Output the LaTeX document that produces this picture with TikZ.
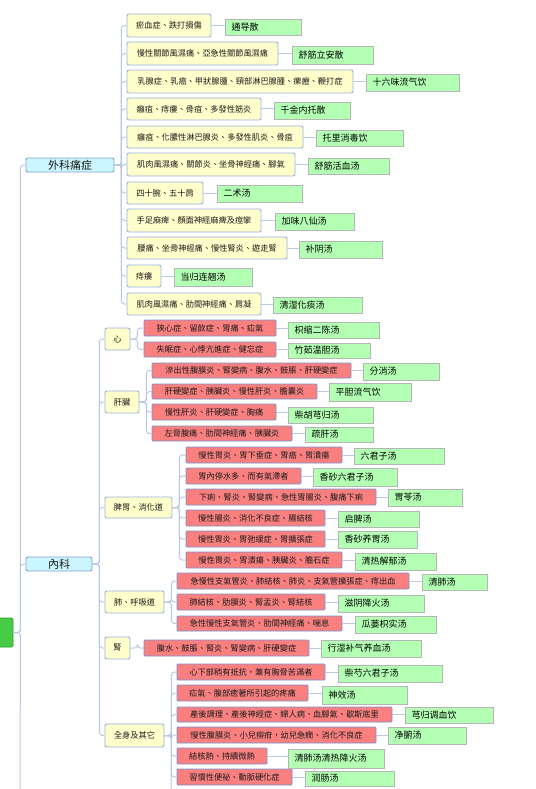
\documentclass[tikz,border=0pt]{standalone}
\usepackage{fontspec}
\setmainfont{Noto Sans CJK TC}
\definecolor{cyanfill}{HTML}{CCF6FF}
\definecolor{cyanline}{HTML}{7FA3D9}
\definecolor{yelfill}{HTML}{FFFFCC}
\definecolor{yelline}{HTML}{9AB0DD}
\definecolor{redfill}{HTML}{FA8080}
\definecolor{redline}{HTML}{7B8FCF}
\definecolor{grnfill}{HTML}{B3FFB3}
\definecolor{grnline}{HTML}{B5B5B5}
\definecolor{rootfill}{HTML}{46CC46}
\definecolor{rootline}{HTML}{2E9E2E}
\definecolor{connc}{HTML}{B8C9E8}
\definecolor{txt}{HTML}{1A1A1A}
\tikzset{
  base/.style={inner sep=0pt, text=txt, line width=0.9pt},
  cbox/.style={base, draw=cyanline, fill=cyanfill, rounded corners=2pt, font=\fontsize{11}{12}\selectfont},
  ybox/.style={base, draw=yelline, fill=yelfill, rounded corners=2pt, font=\fontsize{8.2}{9}\selectfont},
  rbox/.style={base, draw=redline, fill=redfill, rounded corners=1pt, font=\fontsize{8.2}{9}\selectfont},
  gbox/.style={inner ysep=0pt, inner xsep=6.5pt, draw=grnline, fill=grnfill, line width=0.9pt, text=black, align=left, font=\fontsize{9}{10}\selectfont},
  rootbox/.style={base, draw=rootline, fill=rootfill, rounded corners=1.5pt},
  conn/.style={draw=connc, line width=1pt, rounded corners=3pt},
}
\newcommand\bx[7]{%
  \pgfmathsetmacro\bw{#5-#3}\pgfmathsetmacro\bh{#6-#4}%
  \node[#1, minimum width=\bw pt, minimum height=\bh pt] (#2) at ({(#3+#5)/2},{(#4+#6)/2}) {#7};}
\newcommand\gb[6]{%
  \pgfmathsetmacro\bw{#4-#2-13}\pgfmathsetmacro\bh{#5-#3}%
  \node[gbox, text width=\bw pt, minimum height=\bh pt] (#1) at ({(#2+#4)/2},{(#3+#5)/2}) {#6};}
\newcommand\cn[2]{\draw[conn] (#1.east) -- ++(7,0) |- (#2.west);}
\newcommand\cg[2]{\draw[conn] (#1.east) -- (#1.east -| #2.west);}
\begin{document}
\begin{tikzpicture}[x=1pt,y=-1pt]
\useasboundingbox[fill=white] (0,0) rectangle (535,789);
% connectors first (drawn under boxes)
\begin{scope}[on background layer/.style={}]
\end{scope}
% root and main branches
\bx{rootbox}{root}{-6}{618}{13}{647}{}
\bx{cbox}{wk}{26}{158}{114}{172}{外科痛症}
\bx{cbox}{nk}{26}{557}{92}{571}{內科}
% 外科 children
\bx{ybox}{w1}{127}{14}{211}{37}{瘀血症、跌打損傷}
\bx{ybox}{w2}{127}{42}{278}{65}{慢性關節風濕痛、亞急性關節風濕痛}
\bx{ybox}{w3}{127}{70}{353}{93}{乳腺症、乳癌、甲狀腺腫、頸部淋巴腺腫、瘰癧、鞭打症}
\bx{ybox}{w4}{127}{98}{261}{120}{癰疽、痔瘻、骨疽、多發性筋炎}
\bx{ybox}{w5}{127}{126}{303}{148}{癰疽、化膿性淋巴腺炎、多發性肌炎、骨疽}
\bx{ybox}{w6}{127}{153}{295}{176}{肌肉風濕痛、關節炎、坐骨神經痛、腳氣}
\bx{ybox}{w7}{127}{182}{203}{204}{四十腕、五十肩}
\bx{ybox}{w8}{127}{209}{261}{232}{手足麻痺、顏面神經麻痺及痙攣}
\bx{ybox}{w9}{127}{237}{287}{259}{腰痛、坐骨神經痛、慢性腎炎、遊走腎}
\bx{ybox}{w10}{127}{265}{161}{287}{痔瘻}
\bx{ybox}{w11}{127}{293}{261}{315}{肌肉風濕痛、肋間神經痛、肩凝}
\gb{gw1}{225}{19}{301}{35}{通导散}
\gb{gw2}{292}{46}{373}{64}{舒筋立安散}
\gb{gw3}{366}{74}{459}{91}{十六味流气饮}
\gb{gw4}{274}{102}{350}{119}{千金内托散}
\gb{gw5}{316}{130}{403}{146}{托里消毒饮}
\gb{gw6}{308}{158}{389}{174}{舒筋活血汤}
\gb{gw7}{217}{185}{302}{202}{二术汤}
\gb{gw8}{275}{213}{354}{230}{加味八仙汤}
\gb{gw9}{299}{241}{382}{258}{补阴汤}
\gb{gw10}{174}{268}{252}{286}{当归连翘汤}
\gb{gw11}{273}{297}{362}{313}{清湿化痰汤}
% 內科 children
\bx{ybox}{n1}{105}{328}{130}{350}{心}
\bx{ybox}{n2}{105}{391}{139}{413}{肝臟}
\bx{ybox}{n3}{105}{497}{172}{518}{脾胃、消化道}
\bx{ybox}{n4}{105}{591}{164}{613}{肺、呼吸道}
\bx{ybox}{n5}{105}{637}{130}{659}{腎}
\bx{ybox}{n6}{105}{724}{164}{747}{全身及其它}
% 心
\bx{rbox}{x1}{144}{320}{276}{336}{狹心症、留飲症、胃痛、疝氣}
\bx{rbox}{x2}{144}{342}{276}{357}{失眠症、心悸亢進症、健忘症}
\gb{gx1}{288}{322}{379}{338}{枳缩二陈汤}
\gb{gx2}{288}{343}{370}{358}{竹茹温胆汤}
% 肝臟
\bx{rbox}{h1}{152}{363}{351}{378}{滲出性腹膜炎、腎變病、腹水、鼓脹、肝硬變症}
\bx{rbox}{h2}{152}{384}{317}{399}{肝硬變症、胰臟炎、慢性肝炎、膽囊炎}
\bx{rbox}{h3}{152}{404}{276}{420}{慢性肝炎、肝硬變症、胸痛}
\bx{rbox}{h4}{152}{426}{292}{441}{左脅腹痛、肋間神經痛、胰臟炎}
\gb{gh1}{363}{363}{439}{380}{分消汤}
\gb{gh2}{329}{383}{411}{401}{平胆流气饮}
\gb{gh3}{288}{407}{373}{423}{柴胡芎归汤}
\gb{gh4}{305}{427}{373}{442}{疏肝汤}
% 脾胃
\bx{rbox}{p1}{186}{447}{342}{463}{慢性胃炎、胃下垂症、胃癌、胃潰瘍}
\bx{rbox}{p2}{186}{468}{301}{484}{胃內停水多、而有氣滯者}
\bx{rbox}{p3}{186}{489}{376}{505}{下痢、腎炎、腎變病、急性胃腸炎、腹痛下痢}
\bx{rbox}{p4}{186}{510}{325}{526}{慢性腸炎、消化不良症、腸結核}
\bx{rbox}{p5}{186}{531}{325}{547}{慢性胃炎、胃弛緩症、胃擴張症}
\bx{rbox}{p6}{186}{552}{342}{568}{慢性胃炎、胃潰瘍、胰臟炎、膽石症}
\gb{gp1}{354}{448}{444}{464}{六君子汤}
\gb{gp2}{313}{468}{397}{486}{香砂六君子汤}
\gb{gp3}{388}{489}{462}{506}{胃苓汤}
\gb{gp4}{338}{511}{419}{527}{启脾汤}
\gb{gp5}{338}{531}{417}{548}{香砂养胃汤}
\gb{gp6}{355}{553}{436}{570}{清热解郁汤}
% 肺
\bx{rbox}{f1}{177}{573}{409}{589}{急慢性支氣管炎、肺結核、肺炎、支氣管擴張症、痔出血}
\bx{rbox}{f2}{177}{594}{325}{610}{肺結核、肋膜炎、腎盂炎、腎結核}
\bx{rbox}{f3}{177}{616}{342}{631}{急性慢性支氣管炎、肋間神經痛、喘息}
\gb{gf1}{422}{574}{487}{590}{清肺汤}
\gb{gf2}{338}{595}{424}{612}{滋阴降火汤}
\gb{gf3}{355}{616}{436}{633}{瓜蒌枳实汤}
% 腎
\bx{rbox}{k1}{144}{640}{309}{656}{腹水、鼓脹、腎炎、腎變病、肝硬變症}
\gb{gk1}{321}{640}{421}{657}{行湿补气养血汤}
% 全身及其它
\bx{rbox}{q1}{177}{664}{325}{680}{心下部稍有抵抗，兼有胸脅苦滿者}
\bx{rbox}{q2}{177}{685}{308}{701}{疝氣、腹部癒著所引起的疼痛}
\bx{rbox}{q3}{177}{707}{392}{722}{產後調理、產後神經症、婦人病、血腳氣、歇斯底里}
\bx{rbox}{q4}{177}{727}{376}{743}{慢性腹膜炎、小兒癆疳，幼兒急癇、消化不良症}
\bx{rbox}{q5}{177}{748}{267}{764}{結核熱、持續微熱}
\bx{rbox}{q6}{177}{769}{292}{785}{習慣性便祕、動脈硬化症}
\gb{gq1}{338}{665}{442}{682}{柴芍六君子汤}
\gb{gq2}{322}{686}{407}{704}{神效汤}
\gb{gq3}{405}{707}{493}{723}{芎归调血饮}
\gb{gq4}{388}{727}{466}{744}{净腑汤}
\gb{gq5}{288}{749}{384}{768}{清肺汤清热降火汤}
\gb{gq6}{305}{771}{394}{786}{润肠汤}
% connectors
\coordinate (rootend) at (20,800);
\coordinate (qend) at (171,800);
\draw[conn] (root.east) -- ++(7,0) -- (rootend);
\cn{root}{wk}\cn{root}{nk}
\foreach \c in {w1,w2,w3,w4,w5,w6,w7,w8,w9,w10,w11} {\cn{wk}{\c}}
\foreach \c in {1,...,11} {\cg{w\c}{gw\c}}
\foreach \c in {n1,n2,n3,n4,n5,n6} {\cn{nk}{\c}}
\cn{n1}{x1}\cn{n1}{x2}\cg{x1}{gx1}\cg{x2}{gx2}
\foreach \c in {1,...,4} {\cn{n2}{h\c}\cg{h\c}{gh\c}}
\foreach \c in {1,...,6} {\cn{n3}{p\c}\cg{p\c}{gp\c}}
\foreach \c in {1,...,3} {\cn{n4}{f\c}\cg{f\c}{gf\c}}
\cn{n5}{k1}\cg{k1}{gk1}
\draw[conn] (n6.east) -- ++(7,0) -- (qend);
\foreach \c in {1,...,6} {\cn{n6}{q\c}\cg{q\c}{gq\c}}
\end{tikzpicture}
\end{document}
